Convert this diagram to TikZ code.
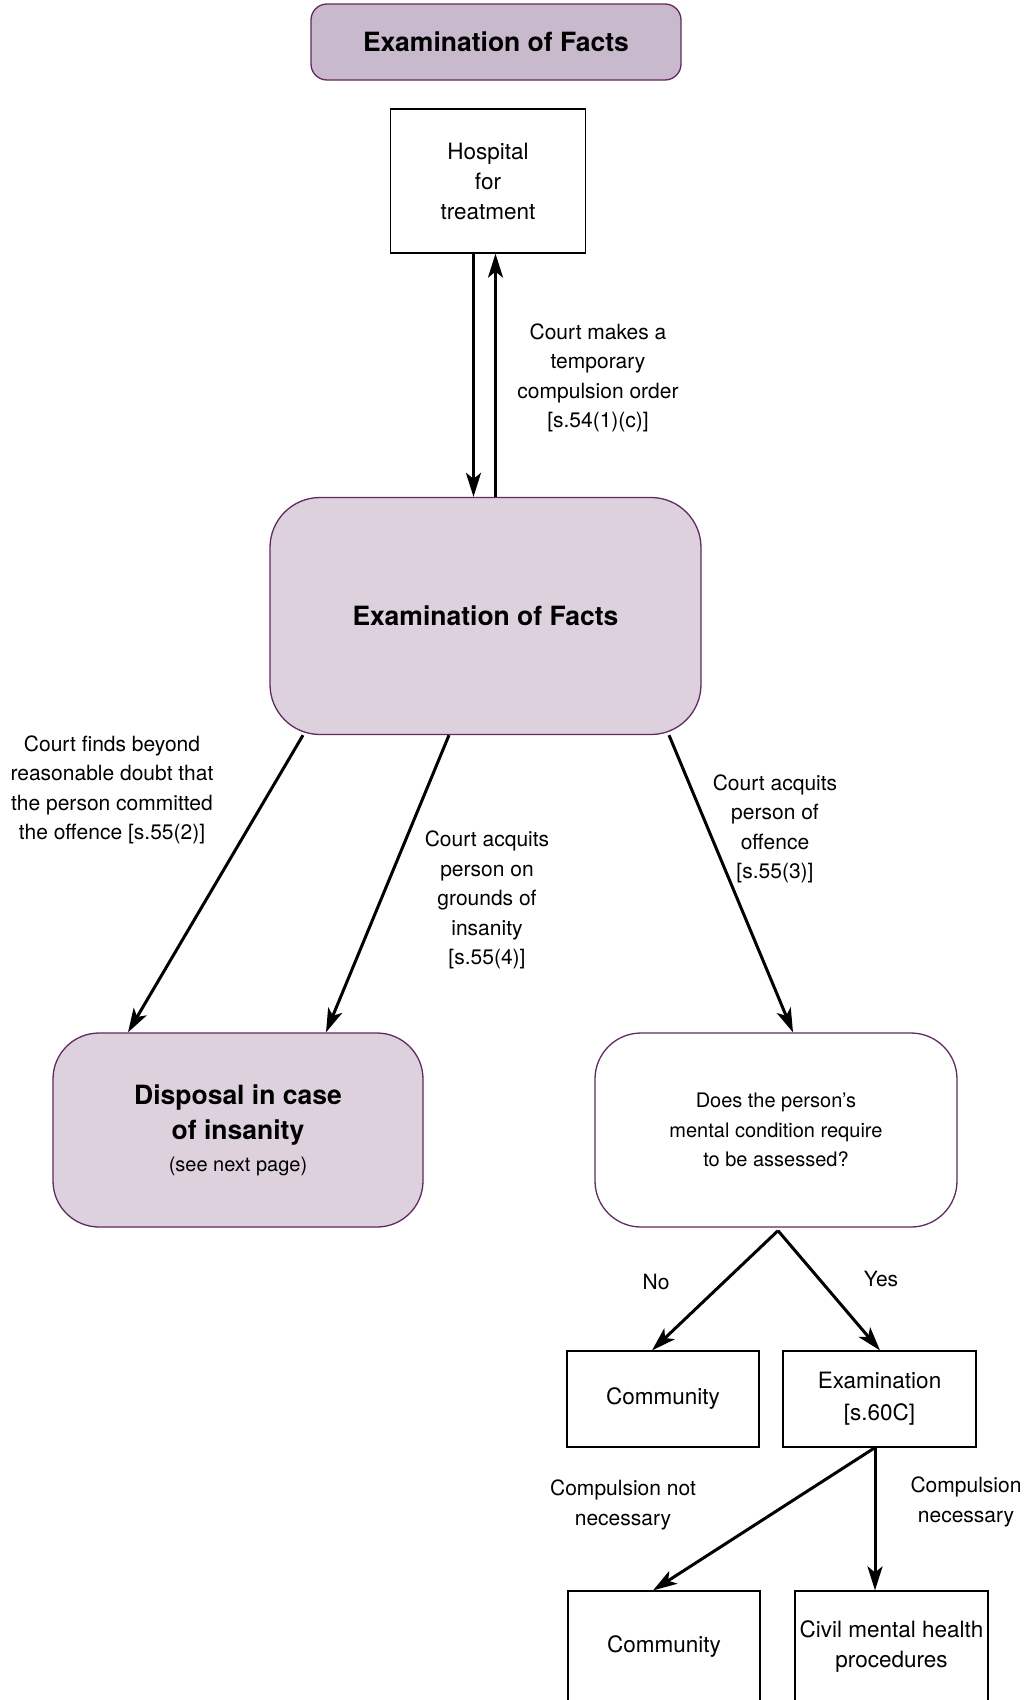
\documentclass[tikz,border=0pt]{standalone}
\usepackage{fontspec}
\setmainfont{TeX Gyre Heros}
\usetikzlibrary{arrows.meta}
\definecolor{plumline}{RGB}{96,42,96}
\definecolor{plumdark}{RGB}{201,185,204}
\definecolor{plumlight}{RGB}{220,209,220}
\begin{document}
\begin{tikzpicture}[x=1pt,y=-1pt,
  every node/.style={inner sep=0pt, align=center},
  titlebox/.style={draw=plumline, line width=1.3pt, fill=plumdark, rounded corners=16pt,
    minimum width=370pt, minimum height=76pt, font=\bfseries\fontsize{26.5}{32}\selectfont},
  bigbox/.style={draw=plumline, line width=1.3pt, fill=plumlight, rounded corners=50pt},
  askbox/.style={draw=plumline, line width=1.3pt, fill=white, rounded corners=46pt,
    minimum width=362pt, minimum height=194pt, font=\fontsize{20}{29.5}\selectfont},
  plainbox/.style={draw=black, line width=1.2pt, minimum width=193pt, minimum height=96pt,
    font=\fontsize{22.5}{31}\selectfont},
  lbl/.style={font=\fontsize{21}{29.5}\selectfont},
  arr/.style={line width=3pt, -{Stealth[length=24pt,width=15pt,inset=6pt]}}]
\useasboundingbox (0,0) rectangle (1026,1700);
\clip (0,0) rectangle (1026,1700);

% boxes
\node[titlebox] (title) at (496,42) {Examination of Facts};
\node[plainbox, minimum width=195pt, minimum height=144pt, font=\fontsize{22.5}{30}\selectfont]
  (hosp) at (488,181) {Hospital\\for\\treatment};
\node[bigbox, minimum width=431pt, minimum height=237pt, font=\bfseries\fontsize{26.5}{32}\selectfont]
  (main) at (485.5,616) {Examination of Facts};
\node[bigbox, rounded corners=46pt, minimum width=370pt, minimum height=194pt,
  font=\bfseries\fontsize{26.5}{35}\selectfont]
  (disp) at (238,1130) {Disposal in case\\of insanity\\[-3pt]
  \normalfont\fontsize{20}{30}\selectfont (see next page)};
\node[askbox] (ask) at (776,1130) {Does the person’s\\mental condition require\\to be assessed?};
\node[plainbox, minimum width=192pt] (comA) at (663,1399) {Community};
\node[plainbox, font=\fontsize{22.5}{32}\selectfont] (exam) at (879.5,1399) {Examination\\{}[s.60C]};
\node[plainbox, minimum width=192pt, minimum height=112pt] (comB) at (664,1647) {Community};
\node[plainbox, minimum height=112pt, font=\fontsize{22.5}{30}\selectfont] (civil) at (891.5,1647) {Civil mental health\\procedures};

% connector labels
\node[lbl] (l54) at (598,378) {Court makes a\\temporary\\compulsion order\\{}[s.54(1)(c)]};
\node[lbl] (l552) at (112,790) {Court finds beyond\\reasonable doubt that\\the person committed\\the offence [s.55(2)]};
\node[lbl] (l554) at (487,900) {Court acquits\\person on\\grounds of\\insanity\\{}[s.55(4)]};
\node[lbl] (l553) at (775,829) {Court acquits\\person of\\offence\\{}[s.55(3)]};
\node[lbl] (lno) at (656,1282) {No};
\node[lbl] (lyes) at (881,1279) {Yes};
\node[lbl] (lcnn) at (623,1505) {Compulsion not\\necessary};
\node[lbl] (lcn) at (966,1502) {Compulsion\\necessary};

% connectors
\draw[arr] ([xshift=-14.5pt]hosp.south) -- ([xshift=-14.5pt]hosp.south |- main.north);
\draw[arr] ([xshift=7.5pt]hosp.south |- main.north) -- ([xshift=7.5pt]hosp.south);
\draw[arr] ([xshift=-182.5pt]main.south) -- ([xshift=-110pt]disp.north);
\draw[arr] ([xshift=-36.5pt]main.south) -- ([xshift=88pt]disp.north);
\draw[arr] ([xshift=183.5pt]main.south) -- ([xshift=17pt]ask.north);
\coordinate (fork) at ([xshift=2pt,yshift=-3pt]ask.south);
\draw[arr] (fork) -- ([xshift=-11pt]comA.north);
\draw[arr] (fork) -- ([xshift=0.5pt]exam.north);
\draw[arr] ([xshift=-4.5pt]exam.south) -- ([xshift=-11pt]comB.north);
\draw[arr] ([xshift=-4.5pt]exam.south) -- ([xshift=-4.5pt]exam.south |- civil.north);
\end{tikzpicture}
\end{document}
